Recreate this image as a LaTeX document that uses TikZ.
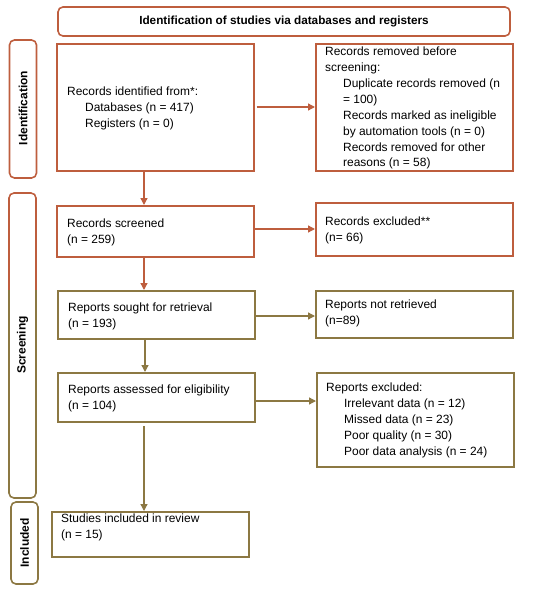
\documentclass[tikz,border=0pt]{standalone}
\usepackage{fontspec}
\setmainfont{Liberation Sans}
\usetikzlibrary{arrows.meta}
\definecolor{rbrown}{HTML}{BE5E3E}
\definecolor{olive}{HTML}{8C7843}
\tikzset{
  boxr/.style={draw=rbrown, line width=1.6pt},
  boxo/.style={draw=olive, line width=1.6pt},
  side/.style={line width=1.6pt, rounded corners=5pt},
  txt/.style={anchor=north west, inner sep=0pt, align=left, font=\fontsize{12}{16}\selectfont},
  sidetxt/.style={rotate=90, font=\bfseries\fontsize{12}{14}\selectfont, inner sep=0pt},
  arr/.style={line width=1.3pt, -{Triangle[width=7pt,length=7pt]}},
}
\newcommand{\ind}{\hspace*{18pt}}
\begin{document}
\begin{tikzpicture}[x=1bp,y=-1bp]
\useasboundingbox (0,0) rectangle (550,594);
% banner
\draw[draw=rbrown, side] (58,7) rectangle (510,36);
\node[font=\bfseries\fontsize{11.8}{13}\selectfont, inner sep=0pt] (banner) at (284,21.5) {Identification of studies via databases and registers};
% sidebars
\draw[draw=rbrown, side] (9.5,40) rectangle (36.5,178);
\node[sidetxt] (sid) at (23,108) {Identification};
\begin{scope}
\clip (0,185) rectangle (60,290);
\draw[draw=rbrown, side] (9,193) rectangle (36,498);
\end{scope}
\begin{scope}
\clip (0,290) rectangle (60,505);
\draw[draw=olive, side] (9,193) rectangle (36,498);
\end{scope}
\node[sidetxt] (ssc) at (22.5,345) {Screening};
\draw[draw=olive, side] (11,502) rectangle (38,584);
\node[sidetxt] (sin) at (24.5,543) {Included};
% boxes
\node[boxr, minimum width=197bp, minimum height=127bp, anchor=north west] (b1) at (56,43) {};
\node[boxr, minimum width=197bp, minimum height=127bp, anchor=north west] (b2) at (315,43) {};
\node[boxr, minimum width=197bp, minimum height=51bp, anchor=north west] (b3) at (56,205) {};
\node[boxr, minimum width=197bp, minimum height=53bp, anchor=north west] (b4) at (315,202) {};
\node[boxo, minimum width=197bp, minimum height=48bp, anchor=north west] (b5) at (57,290) {};
\node[boxo, minimum width=197bp, minimum height=47bp, anchor=north west] (b6) at (315,290) {};
\node[boxo, minimum width=197bp, minimum height=49bp, anchor=north west] (b7) at (57,372) {};
\node[boxo, minimum width=197bp, minimum height=94bp, anchor=north west] (b8) at (316,372) {};
\node[boxo, minimum width=197bp, minimum height=45bp, anchor=north west] (b9) at (51,511) {};
% texts
\node[txt] (t1) at (67,86.5) {Records identified from*:\\\ind Databases (n = 417)\\\ind Registers (n = 0)};
\node[txt] (t2) at (325,46.5) {Records removed before\\screening:\\\ind Duplicate records removed (n\\\ind = 100)\\\ind Records marked as ineligible\\\ind by automation tools (n = 0)\\\ind Records removed for other\\\ind reasons (n = 58)};
\node[txt] (t3) at (67,218.5) {Records screened\\(n = 259)};
\node[txt] (t4) at (325,216.5) {Records excluded**\\(n= 66)};
\node[txt] (t5) at (68,302.5) {Reports sought for retrieval\\(n = 193)};
\node[txt] (t6) at (325,299.5) {Reports not retrieved\\(n=89)};
\node[txt] (t7) at (68,384.5) {Reports assessed for eligibility\\(n = 104)};
\node[txt] (t8) at (326,382.5) {Reports excluded:\\\ind Irrelevant data (n = 12)\\\ind Missed data (n = 23)\\\ind Poor quality (n = 30)\\\ind Poor data analysis (n = 24)};
\node[txt] (t9) at (61,513.5) {Studies included in review\\(n = 15)};
% arrows
\draw[arr, rbrown] (b1.east |- 0,107) ++(2,0) -- (b2.west |- 0,107);
\draw[arr, rbrown] (b1.south -| 144,0) -- (b3.north -| 144,0);
\draw[arr, rbrown] (b3.east |- 0,229) -- (b4.west |- 0,229);
\draw[arr, rbrown] (b3.south -| 144,0) -- (b5.north -| 144,0);
\draw[arr, olive] (b5.east |- 0,316) -- (b6.west |- 0,316);
\draw[arr, olive] (b5.south -| 145,0) -- (b7.north -| 145,0);
\draw[arr, olive] (b7.east |- 0,401) -- (b8.west |- 0,401);
\draw[arr, olive] (144,426) -- (b9.north -| 144,0);
\end{tikzpicture}
\end{document}
